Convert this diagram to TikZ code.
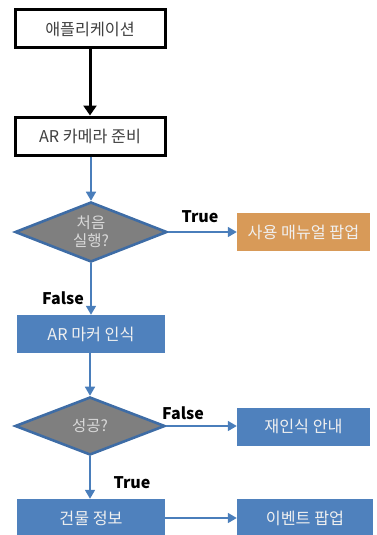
\documentclass[tikz,border=0pt]{standalone}
\usepackage{fontspec}
\setmainfont{Noto Sans CJK KR}
\newfontfamily\labelfont{Noto Sans CJK KR}
\usetikzlibrary{shapes.geometric,arrows.meta}
\definecolor{flowblue}{HTML}{4F81BD}
\definecolor{edgeblue}{HTML}{4A7EBB}
\definecolor{diaborder}{HTML}{3E6CA5}
\definecolor{diafill}{HTML}{7F7F7F}
\definecolor{popup}{HTML}{D89A58}
\definecolor{darktext}{HTML}{404040}
\tikzset{
  basefont/.style={font=\fontsize{16.2}{19}\selectfont},
  plainbox/.style={basefont, draw=black, line width=3pt, fill=white, text=darktext,
    minimum width=150pt, minimum height=38pt, inner sep=0pt},
  bluebox/.style={basefont, fill=flowblue, text=white!94!black,
    minimum width=148pt, minimum height=38pt, inner sep=0pt},
  orangebox/.style={basefont, fill=popup, text=white!94!black,
    minimum width=133pt, minimum height=38pt, inner sep=0pt},
  decision/.style={diamond, aspect=2.5, draw=diaborder, line width=2.6pt,
    fill=diafill, text=white!85!black, inner sep=0pt, align=center,
    font=\fontsize{15.5}{18}\selectfont},
  flow/.style={draw=edgeblue, line width=1.6pt, -{Triangle[length=9pt,width=10pt]}},
  blackflow/.style={draw=black, line width=3pt, -{Triangle[length=10pt,width=13pt]}},
  answer/.style={font=\labelfont\bfseries\fontsize{16}{18}\selectfont, text=black, inner sep=0pt},
}
\begin{document}
\begin{tikzpicture}[x=1pt,y=-1pt]
  \useasboundingbox (0,0) rectangle (376,535);

  % top steps
  \node[plainbox] (app) at (90,29) {애플리케이션};
  \node[plainbox] (cam) at (90,136) {AR 카메라 준비};

  % first run check
  \node[decision, minimum width=152pt, minimum height=60pt] (first) at (91,232) {처음\\실행?};
  \node[orangebox] (manual) at (303.5,232) {사용 매뉴얼 팝업};

  % marker recognition
  \node[bluebox] (marker) at (91,334) {AR 마커 인식};
  \node[decision, minimum width=150pt, minimum height=58pt] (ok) at (90,426) {성공?};
  \node[bluebox, minimum width=133pt] (retry) at (303.5,426.5) {재인식 안내};

  % result
  \node[bluebox] (building) at (91,518) {건물 정보};
  \node[bluebox, minimum width=136pt] (event) at (305,518) {이벤트 팝업};

  % labels
  \node[answer] (t1) at (200,217) {True};
  \node[answer] (f1) at (63,298) {False};
  \node[answer] (f2) at (183,413) {False};
  \node[answer] (t2) at (132,483) {True};

  % connectors
  \draw[blackflow] (app) -- (cam);
  \draw[flow] (cam.south -| first.north) -- (first.north);
  \draw[flow] (first.east) -- (manual.west);
  \draw[flow] (first.south) -- (first.south |- marker.north);
  \draw[flow] (marker.south -| ok.north) -- (ok.north);
  \draw[flow] (ok.east) -- (ok.east -| retry.west);
  \draw[flow] (ok.south) -- (ok.south |- building.north);
  \draw[flow] (building.east) -- (event.west);
\end{tikzpicture}
\end{document}
